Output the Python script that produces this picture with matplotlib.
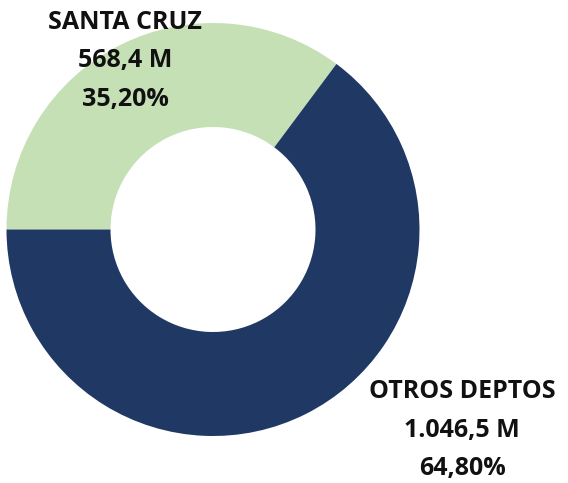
import matplotlib.pyplot as plt

# data
labels = ['SANTA CRUZ', 'OTROS DEPTOS']
values = [568.4, 1046.5]
value_text = ['568,4 M', '1.046,5 M']
pct_text = ['35,20%', '64,80%']
colors = ['#c5e0b4', '#203864']

plt.rcParams['font.family'] = ['Open Sans', 'DejaVu Sans']

W, H = 568, 483
fig = plt.figure(figsize=(W / 100, H / 100), dpi=100)
ax = fig.add_axes([0, 0, 1, 1])

# donut in pixel coordinates (y measured from the top)
ax.pie(values, colors=colors, startangle=180, counterclock=False,
       center=(213, H - 229.5), radius=206.5,
       wedgeprops=dict(width=104, edgecolor='none'), frame=True)
ax.set_xlim(0, W)
ax.set_ylim(0, H)
ax.axis('off')

# labels, centred on the middle line
label_pos = [(125, 61), (462, 430)]
for (x, y), name, v, p in zip(label_pos, labels, value_text, pct_text):
    ax.text(x, H - y, name + '\n' + v + '\n' + p, ha='center', va='center',
            fontsize=18, fontweight='bold', color='#111111',
            linespacing=1.7)

fig.savefig('out.png', dpi=100)
